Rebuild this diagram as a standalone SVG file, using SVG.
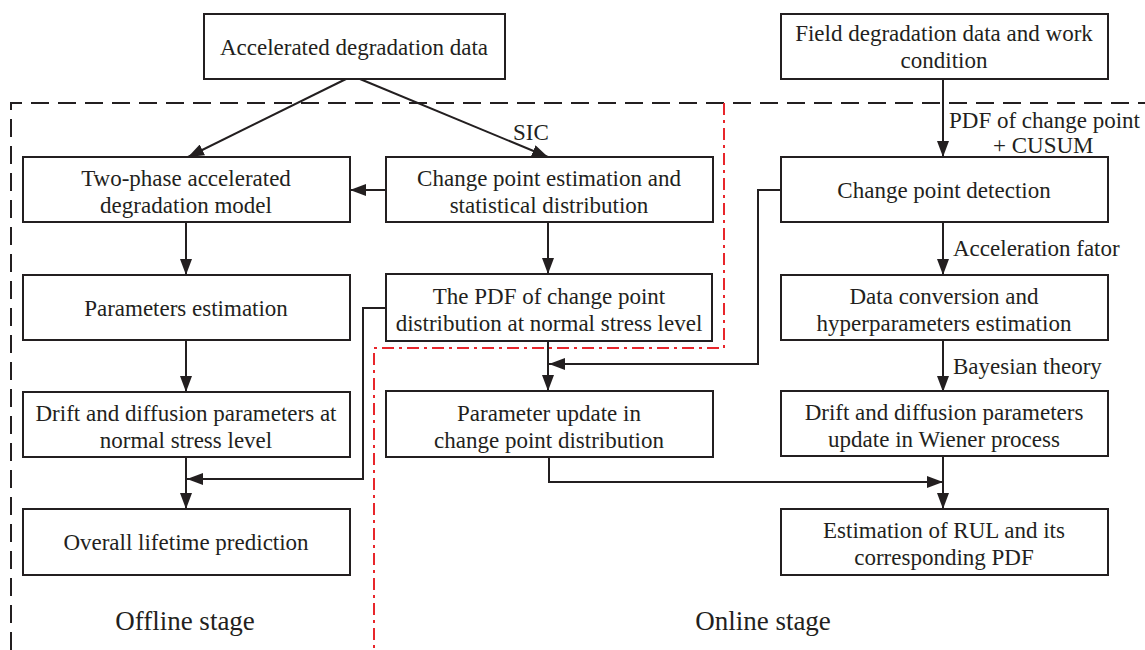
<svg xmlns="http://www.w3.org/2000/svg" width="1145" height="650" viewBox="0 0 1145 650">
  <style>
    .box { fill: #fff; stroke: #231f20; stroke-width: 2; }
    .t { font-family: "Liberation Serif", "Times New Roman", serif; font-size: 23px; fill: #231f20; text-anchor: middle; }
    .lbl { font-family: "Liberation Serif", "Times New Roman", serif; font-size: 23px; fill: #231f20; }
    .stage { font-family: "Liberation Serif", "Times New Roman", serif; font-size: 27px; fill: #231f20; text-anchor: middle; }
    .ca { fill: none; stroke: #231f20; stroke-width: 2; marker-end: url(#ah); }
  </style>
  <defs>
    <marker id="ah" markerWidth="16" markerHeight="12" refX="16" refY="6" orient="auto" markerUnits="userSpaceOnUse">
      <path d="M0,0 L16,6 L0,12 Z" fill="#231f20"/>
    </marker>
  </defs>
  <rect width="1145" height="650" fill="#fff"/>

  <!-- stage boundaries -->
  <g id="boundaries">
    <path d="M11,650 V103 H1145" fill="none" stroke="#231f20" stroke-width="2" stroke-dasharray="18 9"/>
    <path d="M724,103 V348 H374 V650" fill="none" stroke="#e8262b" stroke-width="2" stroke-dasharray="12 5 3 5"/>
  </g>

  <!-- connectors -->
  <g id="connectors">
    <path class="ca" d="M346,79 L188,157"/>
    <path class="ca" d="M360,79 L548,157"/>
    <path class="ca" d="M386,190 H350"/>
    <path class="ca" d="M186,222 V275"/>
    <path class="ca" d="M186,340 V392"/>
    <path class="ca" d="M186,457 V509"/>
    <path class="ca" d="M386,308 H363 V479 H187"/>
    <path class="ca" d="M548,222 V274"/>
    <path class="ca" d="M548,341 V391"/>
    <path class="ca" d="M781,190 H758 V364 H549"/>
    <path class="ca" d="M943,79 V157"/>
    <path class="ca" d="M943,222 V275"/>
    <path class="ca" d="M943,340 V392"/>
    <path class="ca" d="M943,457 V509"/>
    <path class="ca" d="M549,457 V482 H943"/>
    <text class="lbl" x="513" y="140">SIC</text>
    <text class="lbl" x="949" y="128">PDF of change point</text>
    <text class="lbl" x="993" y="153">+ CUSUM</text>
    <text class="lbl" x="953" y="256">Acceleration fator</text>
    <text class="lbl" x="953" y="374">Bayesian theory</text>
  </g>

  <!-- nodes -->
  <g id="accel-data">
    <rect class="box" x="204" y="14" width="301" height="65"/>
    <text class="t" x="354" y="55">Accelerated degradation data</text>
  </g>
  <g id="field-data">
    <rect class="box" x="781" y="14" width="327" height="65"/>
    <text class="t" x="944" y="41">Field degradation data and work</text>
    <text class="t" x="944" y="68">condition</text>
  </g>
  <g id="two-phase-model">
    <rect class="box" x="23" y="157" width="327" height="65"/>
    <text class="t" x="186" y="186">Two-phase accelerated</text>
    <text class="t" x="186" y="213">degradation model</text>
  </g>
  <g id="change-point-estimation">
    <rect class="box" x="386" y="157" width="327" height="65"/>
    <text class="t" x="549" y="186">Change point estimation and</text>
    <text class="t" x="549" y="213">statistical distribution</text>
  </g>
  <g id="change-point-detection">
    <rect class="box" x="781" y="157" width="327" height="65"/>
    <text class="t" x="944" y="198">Change point detection</text>
  </g>
  <g id="parameters-estimation">
    <rect class="box" x="23" y="275" width="327" height="65"/>
    <text class="t" x="186" y="316">Parameters estimation</text>
  </g>
  <g id="pdf-normal-stress">
    <rect class="box" x="386" y="274" width="326" height="67"/>
    <text class="t" x="549" y="304">The PDF of change point</text>
    <text class="t" x="549" y="331">distribution at normal stress level</text>
  </g>
  <g id="data-conversion">
    <rect class="box" x="781" y="275" width="327" height="65"/>
    <text class="t" x="944" y="304">Data conversion and</text>
    <text class="t" x="944" y="331">hyperparameters estimation</text>
  </g>
  <g id="drift-diffusion-normal">
    <rect class="box" x="23" y="392" width="327" height="65"/>
    <text class="t" x="186" y="421">Drift and diffusion parameters at</text>
    <text class="t" x="186" y="448">normal stress level</text>
  </g>
  <g id="parameter-update">
    <rect class="box" x="386" y="391" width="327" height="66"/>
    <text class="t" x="549" y="421">Parameter update in</text>
    <text class="t" x="549" y="448">change point distribution</text>
  </g>
  <g id="drift-diffusion-update">
    <rect class="box" x="781" y="391" width="327" height="65"/>
    <text class="t" x="944" y="420">Drift and diffusion parameters</text>
    <text class="t" x="944" y="447">update in Wiener process</text>
  </g>
  <g id="overall-lifetime">
    <rect class="box" x="23" y="509" width="327" height="66"/>
    <text class="t" x="186" y="550">Overall lifetime prediction</text>
  </g>
  <g id="rul-estimation">
    <rect class="box" x="781" y="509" width="327" height="66"/>
    <text class="t" x="944" y="538">Estimation of RUL and its</text>
    <text class="t" x="944" y="565">corresponding PDF</text>
  </g>

  <!-- stage captions -->
  <text class="stage" x="185" y="630">Offline stage</text>
  <text class="stage" x="763" y="630">Online stage</text>
</svg>
